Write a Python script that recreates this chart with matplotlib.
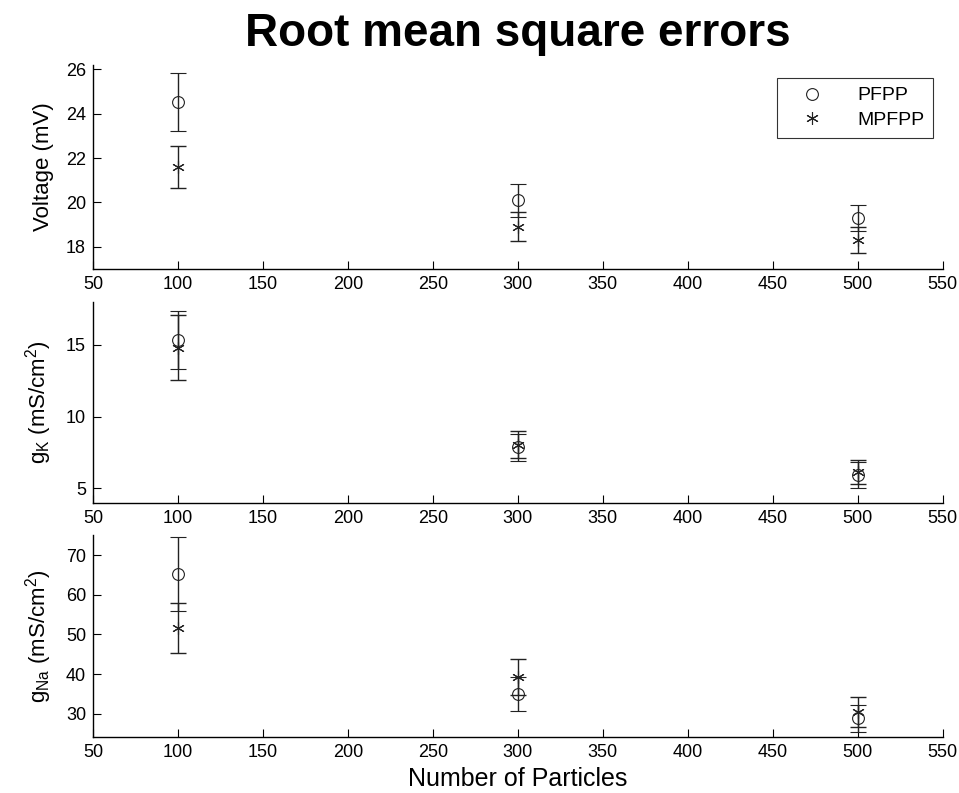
import matplotlib
matplotlib.use("Agg")
import matplotlib.pyplot as plt
from matplotlib.lines import Line2D

plt.rcParams['font.family'] = ['Liberation Sans', 'DejaVu Sans']
plt.rcParams['mathtext.fontset'] = 'custom'
plt.rcParams['mathtext.rm'] = 'Liberation Sans'
plt.rcParams['mathtext.it'] = 'Liberation Sans'

particles = [100, 300, 500]

# voltage RMSE (mV)
v_pfpp = [24.53, 20.1, 19.3]
v_pfpp_err = [1.3, 0.75, 0.6]
v_mpfpp = [21.6, 18.9, 18.3]
v_mpfpp_err = [0.94, 0.65, 0.6]

# gK RMSE (mS/cm^2)
gk_pfpp = [15.35, 7.85, 5.95]
gk_pfpp_err = [2.0, 0.95, 0.9]
gk_mpfpp = [14.8, 8.05, 6.15]
gk_mpfpp_err = [2.25, 0.95, 0.85]

# gNa RMSE (mS/cm^2)
gna_pfpp = [65.3, 35.0, 28.8]
gna_pfpp_err = [9.3, 4.2, 3.5]
gna_mpfpp = [51.6, 39.2, 30.5]
gna_mpfpp_err = [6.4, 4.6, 3.8]

xticks = list(range(50, 551, 50))

panels = [
    (v_pfpp, v_pfpp_err, v_mpfpp, v_mpfpp_err, (17, 26.2), [18, 20, 22, 24, 26], 'Voltage (mV)'),
    (gk_pfpp, gk_pfpp_err, gk_mpfpp, gk_mpfpp_err, (4, 18), [5, 10, 15], r'g$_\mathrm{K}$ (mS/cm$^2$)'),
    (gna_pfpp, gna_pfpp_err, gna_mpfpp, gna_mpfpp_err, (24, 75), [30, 40, 50, 60, 70], r'g$_\mathrm{Na}$ (mS/cm$^2$)'),
]

fig = plt.figure(figsize=(9.59, 7.93), dpi=100)
boxes = [
    [0.097, 0.661, 0.886, 0.257],
    [0.097, 0.366, 0.886, 0.2535],
    [0.097, 0.070, 0.886, 0.255],
]

star = (6, 2, 0)
ink = '#222222'
axes = []
for box, (p, pe, m, me, ylim, yt, ylab) in zip(boxes, panels):
    ax = fig.add_axes(box)
    ax.errorbar(particles, p, yerr=pe, fmt='o', mfc='none', mec=ink, ms=8.5,
                mew=0.8, ecolor=ink, elinewidth=1.0, capsize=6, capthick=1.0)
    ax.errorbar(particles, m, yerr=me, fmt='none', ecolor=ink,
                elinewidth=1.0, capsize=6, capthick=1.0)
    ax.plot(particles, m, linestyle='none', marker=star, ms=9, mec=ink, mew=0.8)
    ax.set_xlim(50, 550)
    ax.set_ylim(*ylim)
    ax.set_xticks(xticks)
    ax.set_yticks(yt)
    ax.spines['top'].set_visible(False)
    ax.spines['right'].set_visible(False)
    ax.spines['left'].set_linewidth(1.0)
    ax.spines['bottom'].set_linewidth(1.0)
    ax.tick_params(direction='in', length=6, width=0.8, labelsize=13, pad=5)
    ax.set_ylabel(ylab, fontsize=16)
    ax.yaxis.set_label_coords(-0.046, 0.5)
    axes.append(ax)

axes[0].set_title('Root mean square errors', fontsize=33, fontweight='bold', pad=14)
axes[2].set_xlabel('Number of Particles', fontsize=18, labelpad=4)

handles = [
    Line2D([], [], linestyle='none', marker='o', mfc='none', mec=ink, ms=8.5, mew=0.8),
    Line2D([], [], linestyle='none', marker=star, mec=ink, ms=9, mew=0.8),
]
leg = axes[0].legend(handles, ['PFPP', 'MPFPP'], loc='upper right',
                     bbox_to_anchor=(0.989, 0.936), borderaxespad=0, fontsize=14,
                     frameon=True, fancybox=False, edgecolor='black',
                     handletextpad=1.0, borderpad=0.45, labelspacing=0.35,
                     handlelength=2.7)
leg.get_frame().set_linewidth(0.8)

fig.savefig('out.png', dpi=100)
